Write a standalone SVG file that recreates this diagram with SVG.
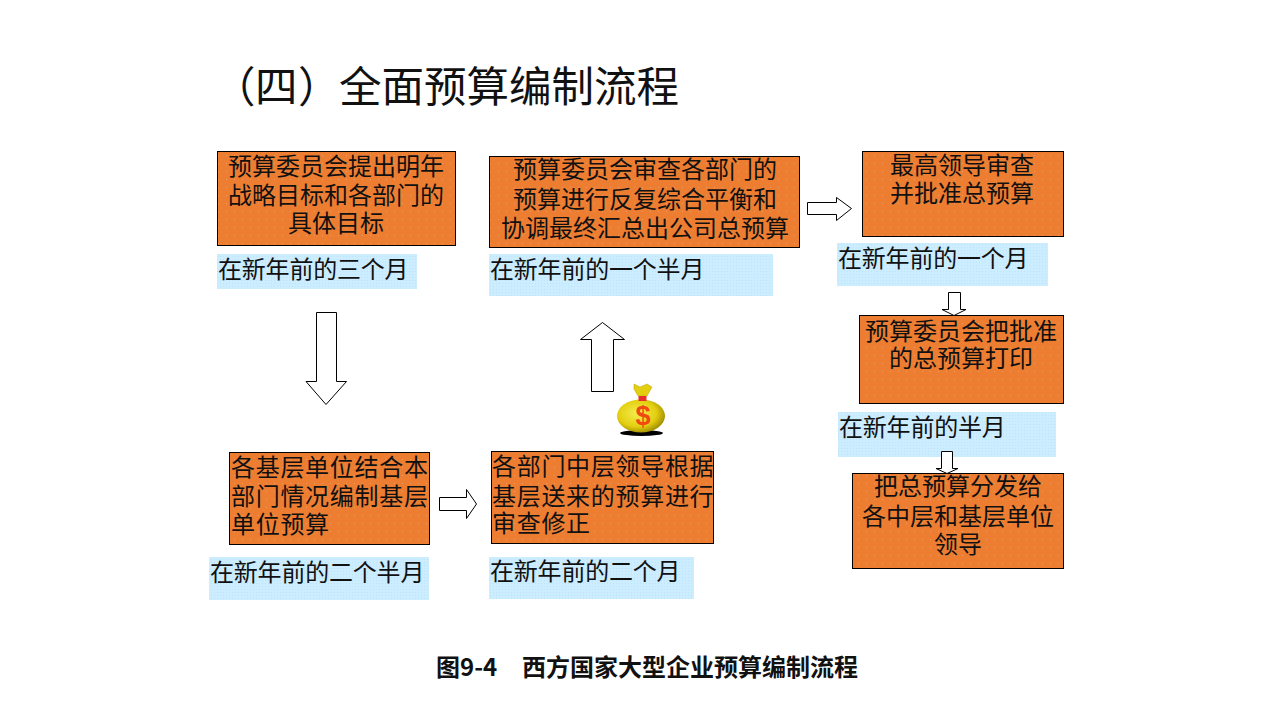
<svg xmlns="http://www.w3.org/2000/svg" width="1280" height="720" viewBox="0 0 1280 720">
<style>
text{font-family:"Noto Sans CJK SC","Liberation Sans",sans-serif;fill:#111;font-size:24px}
.c{text-anchor:middle}
.box{fill:url(#orange);stroke:#000;stroke-width:1}
.lab{fill:url(#blue)}
.l{letter-spacing:-0.2px}
.w{letter-spacing:0.7px}
.arr{fill:#fff;stroke:#000;stroke-width:1}
.title{font-size:42.5px}
.cap{font-weight:bold}
</style>
<defs>
<pattern id="orange" width="8" height="8" patternUnits="userSpaceOnUse"><rect width="8" height="8" fill="#ED7D31"/><rect x="2" y="3" width="1" height="1" fill="#F29A5E"/></pattern>
<pattern id="blue" width="3" height="3" patternUnits="userSpaceOnUse"><rect width="3" height="3" fill="#CCECFF"/><rect x="1" y="1" width="1" height="1" fill="#BFE3F7"/></pattern>
<radialGradient id="bag" cx="0.42" cy="0.42" r="0.62"><stop offset="0" stop-color="#F5EE50"/><stop offset="0.65" stop-color="#E3CE10"/><stop offset="1" stop-color="#9C8A00"/></radialGradient>
</defs>
<rect width="1280" height="720" fill="#fff"/>
<text class="title" y="102"><tspan x="213">（</tspan><tspan x="255">四</tspan><tspan x="298">）</tspan><tspan x="339">全面预算编制流程</tspan></text>

<g id="n1"><rect class="box" x="217.500" y="151.500" width="238" height="94"/>
<text class="c" x="336" y="175">预算委员会提出明年</text><text class="c" x="336" y="204">战略目标和各部门的</text><text class="c" x="336" y="232">具体目标</text></g>
<g id="t1"><rect class="lab" x="217" y="254" width="200" height="35"/><text class="l" x="218" y="278">在新年前的三个月</text></g>

<g id="n2"><rect class="box" x="489.500" y="156.500" width="310" height="91"/>
<text class="c" x="645" y="178">预算委员会审查各部门的</text><text class="c" x="645" y="208">预算进行反复综合平衡和</text><text class="c" x="645" y="237">协调最终汇总出公司总预算</text></g>
<g id="t2"><rect class="lab" x="489" y="254" width="284" height="42"/><text class="l" x="490" y="278">在新年前的一个半月</text></g>

<g id="n3"><rect class="box" x="862.500" y="151.500" width="201" height="85"/>
<text class="c" x="962" y="174">最高领导审查</text><text class="c" x="962" y="202">并批准总预算</text></g>
<g id="t3"><rect class="lab" x="837" y="243" width="211" height="43"/><text class="l" x="838" y="267">在新年前的一个月</text></g>

<g id="n4"><rect class="box" x="859.500" y="315.500" width="204" height="88"/>
<text class="c" x="961" y="340">预算委员会把批准</text><text class="c" x="961" y="367">的总预算打印</text></g>
<g id="t4"><rect class="lab" x="838" y="412" width="218" height="45"/><text class="l" x="839" y="436">在新年前的半月</text></g>

<g id="n5"><rect class="box" x="852.500" y="473.500" width="211" height="95"/>
<text class="c" x="958" y="495">把总预算分发给</text><text class="c" x="958" y="525">各中层和基层单位</text><text class="c" x="958" y="553">领导</text></g>

<g id="n6"><rect class="box" x="229.500" y="452.500" width="200" height="92"/>
<text class="w" x="231" y="476">各基层单位结合本</text><text class="w" x="231" y="505">部门情况编制基层</text><text class="w" x="231" y="533">单位预算</text></g>
<g id="t6"><rect class="lab" x="209" y="557" width="220" height="43"/><text class="l" x="210" y="581">在新年前的二个半月</text></g>

<g id="n7"><rect class="box" x="491.500" y="451.500" width="222" height="92"/>
<text class="w" x="492" y="475">各部门中层领导根据</text><text class="w" x="492" y="505">基层送来的预算进行</text><text class="w" x="492" y="532">审查修正</text></g>
<g id="t7"><rect class="lab" x="489" y="557" width="205" height="42"/><text class="l" x="490" y="580">在新年前的二个月</text></g>

<g id="connectors">
<path class="arr" d="M316.500 312.500H336.500V381.500H346.500L326 404.500L306 381.500H316.500Z"/>
<path class="arr" d="M591.500 391.500V339.500H580.500L602.500 322.500L624.500 339.500H613.500V391.500Z"/>
<path class="arr" d="M439.500 497.500H466.500V489.500L476.500 504L466.500 518.500V510.500H439.500Z"/>
<path class="arr" d="M807.500 202.500H836.500V197.500L851.500 208.500L836.500 220.500V214.500H807.500Z"/>
<path class="arr" d="M948.500 292.500H960.500V309.500H966L954 315.500L942 309.500H948.500Z"/>
<path class="arr" d="M941.500 451.500H952.500V468.500H958L947 473.500L936 468.500H941.500Z"/>
</g>

<g id="bag-icon">
<ellipse cx="641.500" cy="433" rx="21.500" ry="3" fill="#000"/>
<ellipse cx="641" cy="416" rx="24" ry="16.500" fill="url(#bag)"/>
<path d="M634 384L640 387L647 384L652 387L647 396H638L634 389Z" fill="#E3CE10" stroke="#B8A400" stroke-width="0.500"/>
<rect x="638.500" y="396" width="8" height="5" fill="#E8302A"/>
<text class="c" x="643" y="425" style="font-family:'Liberation Sans',sans-serif;font-size:27px;font-weight:bold;fill:#F04A10">$</text>
</g>

<text class="cap" x="436" y="676">图9-4</text>
<text class="cap" x="522" y="676">西方国家大型企业预算编制流程</text>
</svg>
